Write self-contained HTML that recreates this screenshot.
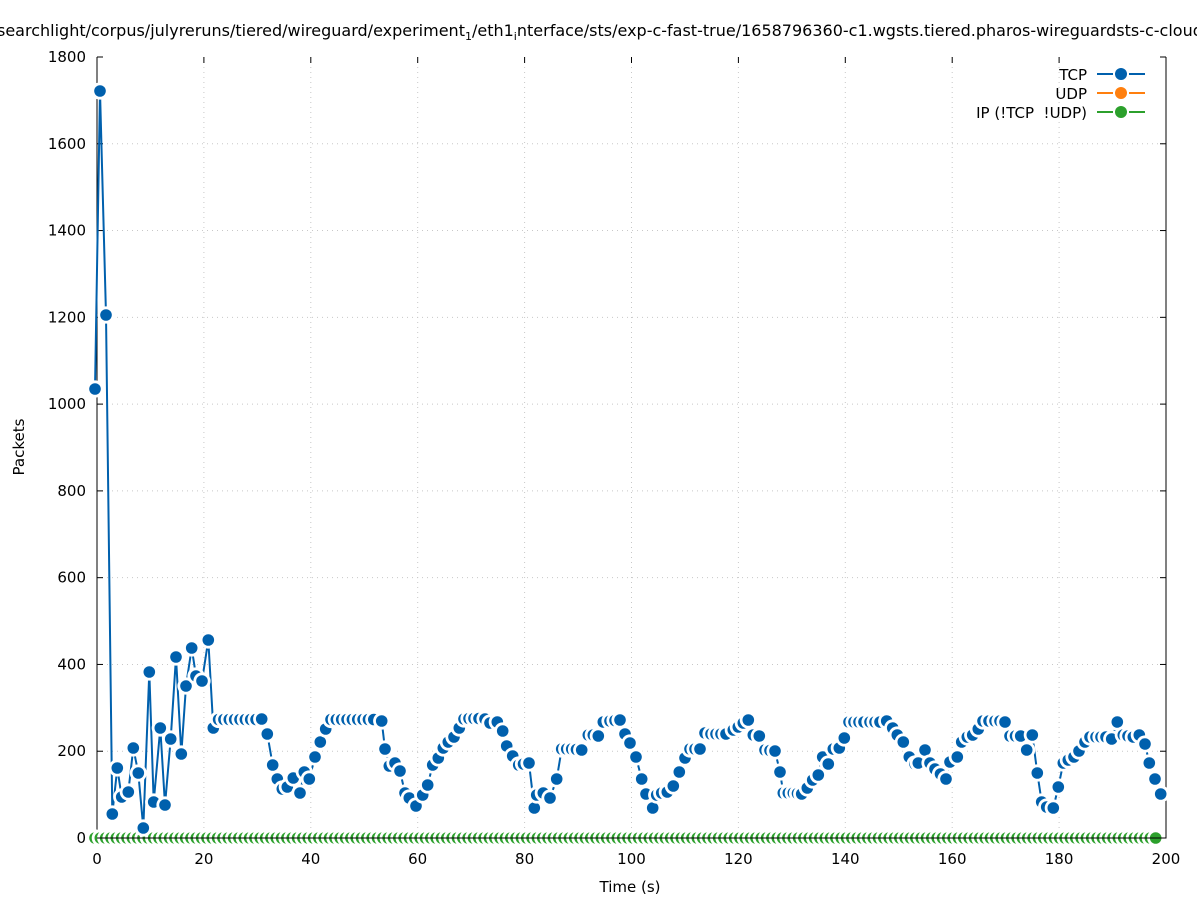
<!DOCTYPE html>
<html><head><meta charset="utf-8">
<style>
html,body{margin:0;padding:0;background:#fff;}
svg{display:block;font-family:"DejaVu Sans","Liberation Sans",sans-serif;}
</style></head>
<body>
<svg id="s" width="1197" height="900" viewBox="0 0 1197 900" xmlns="http://www.w3.org/2000/svg">
<rect width="1197" height="900" fill="#fff"/>
<g id="grid" stroke="#c8c8c8" stroke-width="1" stroke-dasharray="1,4"></g>
<g id="axes" stroke="#000" stroke-width="1" fill="none">
<path d="M97,57 V838 H1166 V57"/>
</g>
<g id="ticks" stroke="#000" stroke-width="1"></g>
<g id="labels" font-size="15" fill="#000"></g>
<text x="-3" y="36" font-size="16">searchlight/corpus/julyreruns/tiered/wireguard/experiment<tspan font-size="11" dy="4">1</tspan><tspan dy="-4">/eth1</tspan><tspan font-size="11" dy="4">i</tspan><tspan dy="-4">nterface/sts/exp-c-fast-true/1658796360-c1.wgsts.tiered.pharos-wireguardsts-c-cloud</tspan></text>
<text x="630" y="892" font-size="15" text-anchor="middle">Time (s)</text>
<text transform="translate(24,447) rotate(-90)" font-size="15" text-anchor="middle">Packets</text>
<g id="green"></g>
<g id="tcp"></g>
<g font-size="15" text-anchor="end">
<text x="1087" y="80">TCP</text>
<text x="1087" y="99">UDP</text>
<text x="1087" y="118" xml:space="preserve">IP (!TCP  !UDP)</text>
</g>
<g stroke-width="2">
<path d="M1097,74 H1113 M1129,74 H1145" stroke="#0060ad"/>
<path d="M1097,93 H1113 M1129,93 H1145" stroke="#ff7f0e"/>
<path d="M1097,112 H1113 M1129,112 H1145" stroke="#2ca02c"/>
</g>
<circle cx="1121" cy="74" r="6" fill="#0060ad"/>
<circle cx="1121" cy="93" r="6" fill="#ff7f0e"/>
<circle cx="1121" cy="112" r="6" fill="#2ca02c"/>
</svg>
<script>
var NS="http://www.w3.org/2000/svg";
function el(p,t,a){var e=document.createElementNS(NS,t);for(var k in a)e.setAttribute(k,a[k]);p.appendChild(e);return e;}
var g=document.getElementById('grid'),tk=document.getElementById('ticks'),lb=document.getElementById('labels');
for(var i=0;i<=10;i++){var x=97+i*(1069/10);
 if(i>0&&i<10)el(g,'line',{x1:x,y1:57,x2:x,y2:838});
 el(tk,'line',{x1:x,y1:838,x2:x,y2:832});el(tk,'line',{x1:x,y1:57,x2:x,y2:63});
 var t=el(lb,'text',{x:x,y:864,'text-anchor':'middle'});t.textContent=i*20;}
for(var i=0;i<=9;i++){var y=838-i*(781/9);
 if(i>0&&i<9)el(g,'line',{x1:97,y1:y,x2:1166,y2:y});
 el(tk,'line',{x1:97,y1:y,x2:103,y2:y});el(tk,'line',{x1:1166,y1:y,x2:1160,y2:y});
 var t=el(lb,'text',{x:86,y:y+5,'text-anchor':'end'});t.textContent=i*200;}
var P=[[95,389],[100,91],[106,315],[112.3,814],[117.3,768],[121.7,797],[128.3,792],[133.3,748],[138.3,773],[143.3,828],[149.3,672],[153.7,802],[160.3,728],[165,805],[170.7,739],[176,657],[181.3,754],[186,686],[191.7,648],[196,676],[202,681],[208.3,640],[213.3,728]];
for(var x=218.6;x<258;x+=5.35)P.push([x,719.5]);
P=P.concat([[261.7,719],[267.3,734],[272.7,765],[277.3,779],[282.3,789],[287.3,787],[293.3,778],[300,793],[304.3,772],[309.3,779],[315,757],[320.3,742],[325.7,729]]);
for(var x=331;x<376;x+=5.35)P.push([x,719.5]);
P=P.concat([[381.7,721],[385,749],[389.3,766],[395,763],[400,771],[405,793],[409.3,798],[416,806],[422.7,795],[427.7,785],[432.7,765],[438.3,758],[443.3,748],[448.3,742],[454,737],[459.3,728],[464,719],[469,718.5],[474,718.5],[479,718.5],[485,719],[490,723],[497.3,722],[502.7,731],[506.7,746],[512.7,756],[518.7,765],[523.5,764],[529,763],[534.3,808],[536.7,795],[543.3,793],[550,798],[556.7,779],[561.7,749],[566.7,749],[571.7,749],[576.5,749.5],[581.7,750],[588.3,735],[593.3,735],[598.3,736],[603.3,722],[610,721],[615,720.5],[620,720],[625,734],[630,743],[636,757],[641.7,779],[646,794],[652.7,808],[656.7,795],[661.7,793],[667.3,792],[673.3,786],[679.3,772],[685,758],[690,749],[695,749],[700,749],[705,733],[711,734],[716,734],[721,734],[726,734],[733.3,730],[738.3,727],[743.3,723],[748.3,720],[753.3,735],[759.3,736],[765,750],[770,750.5],[775,751],[780,772],[783.3,793],[788.3,793],[793.3,793],[797.5,793.5],[801.7,794],[807.3,788],[812.7,780],[818.3,775],[822.7,757],[828.3,764],[833.3,749],[839.3,748],[844.3,738],[849,722],[854,722],[859,722],[864,722],[870,722],[875,722],[880,722],[886.7,721],[892.7,728],[897.3,735],[903.3,742],[909.3,757],[915,764],[918.3,763],[925,750],[930,763],[935,769],[940.5,774],[946,779],[950,762],[957.3,757],[961.7,742],[967.3,737],[972.7,735],[978.3,729],[983,721],[989,721],[995,721],[1000,721],[1005,722],[1010,736],[1015.5,736],[1020.7,736],[1026.7,750],[1032.3,735],[1037.3,773],[1041.7,802],[1046.7,807],[1053.3,808],[1058.3,787],[1063.3,763],[1068.3,760],[1074,757],[1079,751],[1085,742],[1090,737],[1096,737],[1101,737],[1106,737],[1111.7,739],[1117.3,722],[1123.3,735],[1128,736],[1133.3,737],[1139.3,735],[1145,744],[1149.3,763],[1155,779],[1160.7,794]]);
var tc=document.getElementById('tcp');
var d='M'+P.map(function(p){return p[0]+','+p[1];}).join(' L');
el(tc,'path',{d:d,fill:'none',stroke:'#0060ad','stroke-width':2});
P.forEach(function(p){el(tc,'circle',{cx:p[0],cy:p[1],r:8.6,fill:'#fff'});el(tc,'circle',{cx:p[0],cy:p[1],r:5.8,fill:'#0060ad'});});
var gr=document.getElementById('green');
el(gr,'path',{d:'M95,838 H1160',stroke:'#2ca02c','stroke-width':2});
for(var x=95;x<=1161;x+=5.33){el(gr,'circle',{cx:x,cy:838,r:8.6,fill:'#fff'});el(gr,'circle',{cx:x,cy:838,r:5.8,fill:'#2ca02c'});}
el(gr,'path',{d:'M97,838 H1166',stroke:'#000','stroke-width':1});
</script>
</body></html>
